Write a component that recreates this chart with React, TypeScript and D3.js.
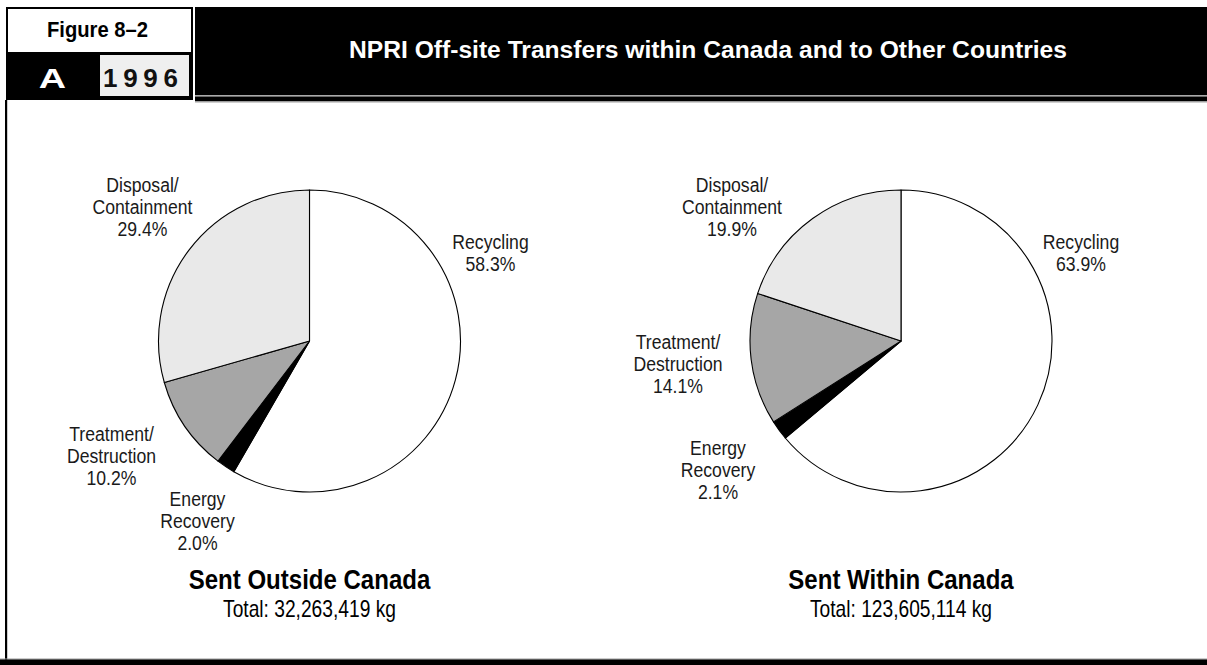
import React from "react";
import * as d3 from "d3";

const categories = ["Recycling", "Energy Recovery", "Treatment/Destruction", "Disposal/Containment"];
const categoryLines = [["Recycling"], ["Energy", "Recovery"], ["Treatment/", "Destruction"], ["Disposal/", "Containment"]];
const outsideValues = [58.3, 2.0, 10.2, 29.4];
const withinValues = [63.9, 2.1, 14.1, 19.9];
const pieTitles = ["Sent Outside Canada", "Sent Within Canada"];
const pieTotals = ["Total: 32,263,419 kg", "Total: 123,605,114 kg"];
const figureLabel = "Figure 8\u20132";
const panelLetter = "A";
const yearLabel = "1996";
const chartTitle = "NPRI Off-site Transfers within Canada and to Other Countries";

const W = 1207;
const H = 665;
const SANS = "'Liberation Sans', Arial, Helvetica, sans-serif";
const fills = ["#ffffff", "#000000", "#a6a6a6", "#e9e9e9"];

// label centre offsets relative to each pie centre (layout only)
const labelOffsets = [
  [[181, -89], [-112, 179], [-198, 114], [-167, -135]],
  [[180, -89], [-183, 128], [-223, 22], [-169, -135]],
];

const pieCenters = [[309.5, 341], [901, 341]];
const R = 151;
const FS = 21;
const SX = 0.84;
const LH = 22;

function Pie({ idx, values }: { idx: number; values: number[] }) {
  const [cx, cy] = pieCenters[idx];
  const arcs = d3.pie<number>().sort(null).value((d) => d)(values);
  const arc = d3.arc<d3.PieArcDatum<number>>().innerRadius(0).outerRadius(R);
  return (
    <g>
      <g transform={`translate(${cx},${cy})`}>
        {arcs.map((a, i) => (
          <path key={i} d={arc(a) || ""} fill={fills[i]} stroke="#000" strokeWidth={1.1} strokeLinejoin="round" />
        ))}
        {arcs.map((a, i) => {
          const [ox, oy] = labelOffsets[idx][i];
          const lines = [...categoryLines[i], `${values[i].toFixed(1)}%`];
          const n = lines.length;
          return (
            <g key={"l" + i} transform={`translate(${ox},${oy}) scale(${SX},1)`}>
              <text textAnchor="middle" fontFamily={SANS} fontSize={FS} fill="#1a1a1a">
                {lines.map((ln, k) => (
                  <tspan key={k} x={0} y={(k - (n - 1) / 2) * LH + FS * 0.36}>
                    {ln}
                  </tspan>
                ))}
              </text>
            </g>
          );
        })}
      </g>
      <g transform={`translate(${cx},589) scale(0.89,1)`}>
        <text x={0} y={0} textAnchor="middle" fontFamily={SANS} fontWeight="bold" fontSize={27} fill="#000">
          {pieTitles[idx]}
        </text>
      </g>
      <g transform={`translate(${cx},617) scale(0.8,1)`}>
        <text x={0} y={0} textAnchor="middle" fontFamily={SANS} fontSize={24} fill="#000">
          {pieTotals[idx]}
        </text>
      </g>
    </g>
  );
}

export default function App() {
  return (
    <svg width={W} height={H} style={{ position: "absolute", left: 0, top: 0, display: "block", background: "#fff" }}>
      <rect x={0} y={0} width={W} height={H} fill="#fff" />
      {/* header left box */}
      <rect x={7} y={8} width={185} height={91} fill="#fff" stroke="#000" strokeWidth={2} />
      <g transform="translate(97.5,37) scale(0.92,1)">
        <text x={0} y={0} textAnchor="middle" fontFamily={SANS} fontWeight="bold" fontSize={22} fill="#000">
          {figureLabel}
        </text>
      </g>
      <rect x={6} y={52} width={92} height={48} fill="#000" />
      <rect x={98} y={52} width={95} height={48} fill="#000" />
      <rect x={100} y={55} width={89} height={41} fill="#efefef" />
      <g transform="translate(52.5,88) scale(1.35,1)">
        <text x={0} y={0} textAnchor="middle" fontFamily={SANS} fontWeight="bold" fontSize={28} fill="#fff">
          {panelLetter}
        </text>
      </g>
      <text x={103} y={87} textAnchor="start" fontFamily={SANS} fontWeight="bold" fontSize={26} letterSpacing={5.7} fill="#111">
        {yearLabel}
      </text>
      {/* title bar */}
      <rect x={195} y={7} width={W - 195} height={88} fill="#000" />
      <rect x={195} y={95} width={W - 195} height={1.5} fill="#aaa" />
      <rect x={195} y={96.5} width={W - 195} height={5} fill="#000" />
      <rect x={195} y={101.5} width={W - 195} height={1.2} fill="#bbb" />
      <text x={708} y={58} textAnchor="middle" fontFamily={SANS} fontWeight="bold" fontSize={23} fill="#fff"
        textLength={718} lengthAdjust="spacingAndGlyphs">
        {chartTitle}
      </text>
      {/* left frame line */}
      <rect x={5} y={100} width={2.2} height={560} fill="#000" />
      {/* bottom bar */}
      <rect x={0} y={658.5} width={W} height={1.2} fill="#999" />
      <rect x={0} y={659.5} width={W} height={6} fill="#000" />
      <Pie idx={0} values={outsideValues} />
      <Pie idx={1} values={withinValues} />
    </svg>
  );
}
